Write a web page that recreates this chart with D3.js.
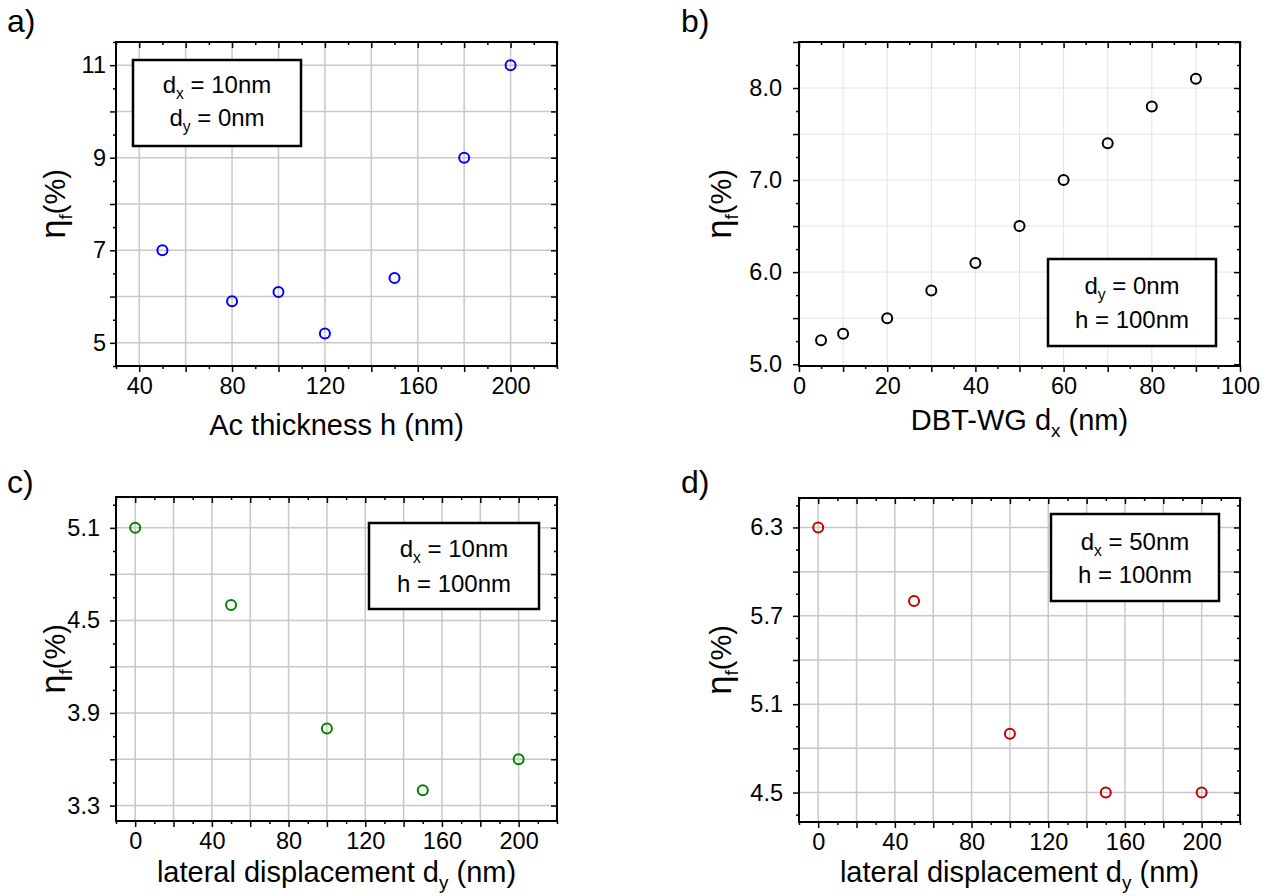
<!DOCTYPE html>
<html>
<head>
<meta charset="utf-8">
<script src="https://cdn.jsdelivr.net/npm/d3@7"></script>
<style>
  html, body { margin: 0; padding: 0; background: #fff; }
  svg { display: block; }
  text { font-family: "Liberation Sans", Arial, sans-serif; fill: #000; }
</style>
</head>
<body>
<svg id="chart" width="1273" height="896"></svg>
<script>
// ---------- data ----------
const aThickness = [50, 80, 100, 120, 150, 180, 200];
const aEta = [7.0, 5.9, 6.1, 5.2, 6.4, 9.0, 11.0];

const bDx = [5, 10, 20, 30, 40, 50, 60, 70, 80, 90];
const bEta = [5.26, 5.33, 5.5, 5.8, 6.1, 6.5, 7.0, 7.4, 7.8, 8.1];

const cDy = [0, 50, 100, 150, 200];
const cEta = [5.1, 4.6, 3.8, 3.4, 3.6];

const dDy = [0, 50, 100, 150, 200];
const dEta = [6.3, 5.8, 4.9, 4.5, 4.5];

const aXLabels = [40, 80, 120, 160, 200];
const aYLabels = [5, 7, 9, 11];
const bXLabels = [0, 20, 40, 60, 80, 100];
const bYLabels = [5.0, 6.0, 7.0, 8.0];
const cXLabels = [0, 40, 80, 120, 160, 200];
const cYLabels = [3.3, 3.9, 4.5, 5.1];
const dXLabels = [0, 40, 80, 120, 160, 200];
const dYLabels = [4.5, 5.1, 5.7, 6.3];

// ---------- helpers ----------
const svg = d3.select("#chart");
const FONT_TICK = 23.5, FONT_TITLE = 29;

function steps(start, end, step) {
  const n = Math.round((end - start) / step);
  return d3.range(n + 1).map(i => +(start + i * step).toFixed(4));
}
const near = (a, b) => Math.abs(a - b) < 1e-6;
const inSet = (arr, v) => arr.some(x => near(x, v));

function subText(sel, parts, size) {
  let shifted = false;
  parts.forEach(([t, sub, scale]) => {
    const ts = sel.append("tspan").text(t);
    if (sub) { ts.attr("font-size", size * 0.65).attr("dy", size * 0.25); shifted = true; }
    else {
      if (scale) ts.attr("font-size", size * scale);
      if (shifted) { ts.attr("dy", -size * 0.25); shifted = false; }
    }
  });
}

function panel(cfg) {
  const { L, R, T, B } = cfg;
  const g = svg.append("g");
  const x = d3.scaleLinear().domain(cfg.xDomain).range([L, R]);
  const y = d3.scaleLinear().domain(cfg.yDomain).range([B, T]);

  // grid
  const gg = g.append("g").attr("stroke", cfg.gridColor).attr("stroke-width", cfg.gridWidth);
  gg.selectAll("line.vx").data(cfg.xGrid).join("line")
    .attr("x1", d => x(d)).attr("x2", d => x(d)).attr("y1", T).attr("y2", B);
  gg.selectAll("line.hy").data(cfg.yGrid).join("line")
    .attr("y1", d => y(d)).attr("y2", d => y(d)).attr("x1", L).attr("x2", R);

  const xTicks = cfg.xMinor, yTicks = cfg.yMinor;
  const xMajorLen = d => inSet(cfg.xMajor, d) ? 6 : 3;
  const yMajorLen = d => inSet(cfg.yMajor, d) ? 6 : 3;
  const fmt = cfg.fmt;

  // bottom axis
  const ax = g.append("g").attr("transform", `translate(0,${B})`)
    .call(d3.axisBottom(x).tickValues(xTicks).tickSizeOuter(0).tickSize(6).tickPadding(4)
      .tickFormat(d => inSet(cfg.xLabels, d) ? d3.format("d")(d) : ""));
  ax.selectAll(".tick line").attr("y2", xMajorLen).attr("stroke-width", 1.5);
  ax.selectAll(".tick text").attr("font-size", FONT_TICK).attr("font-family", null).attr("fill", "#000").attr("dy", "0.75em");
  ax.select(".domain").remove();

  // left axis
  const ay = g.append("g").attr("transform", `translate(${L},0)`)
    .call(d3.axisLeft(y).tickValues(yTicks).tickSizeOuter(0).tickSize(6).tickPadding(cfg.yPad)
      .tickFormat(d => inSet(cfg.yLabels, d) ? fmt(d) : ""));
  ay.selectAll(".tick line").attr("x2", d => -yMajorLen(d)).attr("stroke-width", 1.5);
  ay.selectAll(".tick text").attr("font-size", FONT_TICK).attr("font-family", null).attr("fill", "#000");
  ay.select(".domain").remove();

  // top axis (inward)
  const at = g.append("g").attr("transform", `translate(0,${T})`)
    .call(d3.axisTop(x).tickValues(xTicks).tickSizeOuter(0).tickSize(-6).tickFormat(""));
  at.selectAll(".tick line").attr("y2", d => xMajorLen(d)).attr("stroke-width", 1.5);
  at.select(".domain").remove();

  // right axis (inward)
  const ar = g.append("g").attr("transform", `translate(${R},0)`)
    .call(d3.axisRight(y).tickValues(yTicks).tickSizeOuter(0).tickSize(-6).tickFormat(""));
  ar.selectAll(".tick line").attr("x2", d => -yMajorLen(d)).attr("stroke-width", 1.5);
  ar.select(".domain").remove();

  // frame
  g.append("rect").attr("x", L).attr("y", T).attr("width", R - L).attr("height", B - T)
    .attr("fill", "none").attr("stroke", "#000").attr("stroke-width", 2);

  // points
  g.append("g").selectAll("circle").data(cfg.xs.map((v, i) => [v, cfg.ys[i]])).join("circle")
    .attr("cx", d => x(d[0])).attr("cy", d => y(d[1])).attr("r", 5)
    .attr("fill", "none").attr("stroke", cfg.color).attr("stroke-width", 2);

  // annotation box
  const bx = cfg.box;
  g.append("rect").attr("x", bx.x).attr("y", bx.y).attr("width", bx.w).attr("height", bx.h)
    .attr("fill", "#fff").attr("stroke", "#000").attr("stroke-width", 2.5);
  bx.lines.forEach((parts, i) => {
    const t = g.append("text").attr("x", bx.x + bx.w / 2).attr("y", bx.y + bx.base[i])
      .attr("text-anchor", "middle").attr("font-size", 24);
    subText(t, parts, 24);
  });

  // x title
  const xt = g.append("text").attr("x", (L + R) / 2).attr("y", cfg.xTitleY)
    .attr("text-anchor", "middle").attr("font-size", FONT_TITLE);
  subText(xt, cfg.xTitle, FONT_TITLE);

  // y title
  const yt = g.append("text").attr("transform", `translate(${cfg.yTitleX},${(T + B) / 2}) rotate(-90)`)
    .attr("text-anchor", "middle").attr("font-size", FONT_TITLE);
  subText(yt, [["η", false, 1.2], ["f", true], ["(%)", false]], FONT_TITLE);

  // panel label
  g.append("text").attr("x", cfg.labelX).attr("y", cfg.labelY).attr("font-size", 32).text(cfg.label);
}

// ---------- panels ----------
panel({
  label: "a)", labelX: 7, labelY: 32,
  L: 116, R: 557, T: 42, B: 366,
  xDomain: [30, 220], yDomain: [4.5, 11.5],
  xGrid: steps(40, 200, 20), yGrid: steps(5, 11, 1),
  xMinor: steps(30, 220, 10), xMajor: steps(40, 200, 20), xLabels: aXLabels,
  yMinor: steps(4.5, 11.5, 0.5), yMajor: steps(5, 11, 1), yLabels: aYLabels,
  fmt: d3.format("d"), yPad: 4,
  gridColor: "#c8c8c8", gridWidth: 1.5,
  xs: aThickness, ys: aEta, color: "#0000ff",
  box: { x: 133, y: 60, w: 168, h: 86, base: [33, 66],
         lines: [[["d", false], ["x", true], [" = 10nm", false]], [["d", false], ["y", true], [" = 0nm", false]]] },
  xTitle: [["Ac thickness h (nm)", false]], xTitleY: 435, yTitleX: 65
});

panel({
  label: "b)", labelX: 681, labelY: 32,
  L: 799, R: 1240, T: 42, B: 366,
  xDomain: [0, 100], yDomain: [4.98, 8.5],
  xGrid: steps(10, 90, 10), yGrid: steps(5.5, 8.0, 0.5),
  xMinor: steps(0, 100, 5), xMajor: steps(0, 100, 10), xLabels: bXLabels,
  yMinor: steps(5.0, 8.5, 0.25), yMajor: steps(5.0, 8.5, 0.5), yLabels: bYLabels,
  fmt: d3.format(".1f"), yPad: 11,
  gridColor: "#e3e3e3", gridWidth: 1,
  xs: bDx, ys: bEta, color: "#000000",
  box: { x: 1048, y: 259, w: 168, h: 87, base: [35, 69],
         lines: [[["d", false], ["y", true], [" = 0nm", false]], [[" h = 100nm", false]]] },
  xTitle: [["DBT-WG d", false], ["x", true], [" (nm)", false]], xTitleY: 430, yTitleX: 731
});

panel({
  label: "c)", labelX: 7, labelY: 493,
  L: 116, R: 557, T: 497, B: 821,
  xDomain: [-10, 220], yDomain: [3.2, 5.3],
  xGrid: steps(0, 200, 20), yGrid: steps(3.3, 5.1, 0.3),
  xMinor: steps(-10, 220, 10), xMajor: steps(0, 200, 20), xLabels: cXLabels,
  yMinor: steps(3.3, 5.25, 0.15), yMajor: steps(3.3, 5.1, 0.3), yLabels: cYLabels,
  fmt: d3.format(".1f"), yPad: 10,
  gridColor: "#c8c8c8", gridWidth: 1.5,
  xs: cDy, ys: cEta, color: "#008000",
  box: { x: 369, y: 523, w: 170, h: 86, base: [34, 69],
         lines: [[["d", false], ["x", true], [" = 10nm", false]], [[" h = 100nm", false]]] },
  xTitle: [["lateral displacement d", false], ["y", true], [" (nm)", false]], xTitleY: 882, yTitleX: 65
});

panel({
  label: "d)", labelX: 681, labelY: 493,
  L: 799, R: 1240, T: 498, B: 822,
  xDomain: [-10, 220], yDomain: [4.3, 6.5],
  xGrid: steps(0, 200, 20), yGrid: steps(4.5, 6.3, 0.3),
  xMinor: steps(-10, 220, 10), xMajor: steps(0, 200, 20), xLabels: dXLabels,
  yMinor: steps(4.35, 6.45, 0.15), yMajor: steps(4.5, 6.3, 0.3), yLabels: dYLabels,
  fmt: d3.format(".1f"), yPad: 10,
  gridColor: "#c8c8c8", gridWidth: 1.5,
  xs: dDy, ys: dEta, color: "#c00000",
  box: { x: 1051, y: 514, w: 168, h: 87, base: [36, 69],
         lines: [[["d", false], ["x", true], [" = 50nm", false]], [[" h = 100nm", false]]] },
  xTitle: [["lateral displacement d", false], ["y", true], [" (nm)", false]], xTitleY: 882, yTitleX: 731
});
</script>
</body>
</html>
